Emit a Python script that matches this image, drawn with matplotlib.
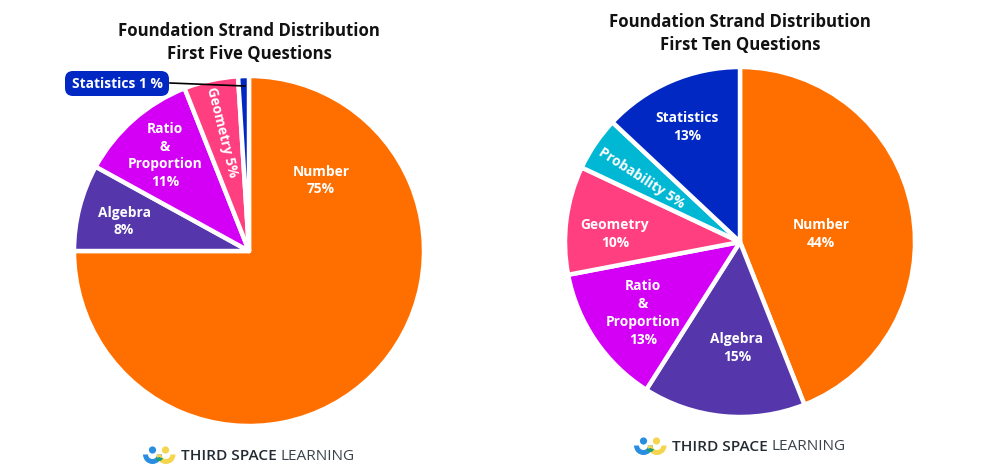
import matplotlib
matplotlib.use("Agg")
import matplotlib.pyplot as plt
from matplotlib.patches import Wedge, Circle, FancyBboxPatch

plt.rcParams['font.family'] = ['Open Sans', 'DejaVu Sans']

first_five_labels = ["Number", "Algebra", "Ratio & Proportion", "Geometry", "Statistics"]
first_five_values = [75, 8, 11, 5, 1]
first_five_colors = ["#ff6f00", "#5537ab", "#d400f5", "#ff3f80", "#0228c4"]

first_ten_labels = ["Number", "Algebra", "Ratio & Proportion", "Geometry", "Probability", "Statistics"]
first_ten_values = [44, 15, 13, 10, 5, 13]
first_ten_colors = ["#ff6f00", "#5537ab", "#d400f5", "#ff3f80", "#00b8d4", "#0228c4"]

H = 468
fig = plt.figure(figsize=(9.86, 4.68), dpi=100)
ax = fig.add_axes([0, 0, 1, 1])


def Y(py):
    return H - py


def draw_pie(values, colors, cx, cy, r):
    ax.pie(values, colors=colors, center=(cx, Y(cy)), radius=r, startangle=90,
           counterclock=False, frame=True,
           wedgeprops=dict(edgecolor="white", linewidth=3.2, joinstyle="round"))


draw_pie(first_five_values, first_five_colors, 249, 251, 175)
draw_pie(first_ten_values, first_ten_colors, 740, 242, 175)
ax.set_xlim(0, 986)
ax.set_ylim(0, H)
ax.set_aspect("equal")
ax.axis("off")


def title(x, y, s):
    ax.text(x, Y(y), s, ha="center", va="center", fontsize=12.1, fontweight="bold", color="#111111")


def label(x, y, s, rot=0):
    ax.text(x, Y(y), s, ha="center", va="center", fontsize=9.9, fontweight="bold",
            color="white", rotation=rot, rotation_mode="anchor")


title(249, 31, "Foundation Strand Distribution")
title(249, 54, "First Five Questions")
title(740, 22, "Foundation Strand Distribution")
title(740, 45, "First Ten Questions")

for x, y, s in [(321, 172, "Number"), (321, 189, "75%"),
                (124, 213, "Algebra"), (124, 230, "8%"),
                (165, 129, "Ratio"), (165, 147, "&"), (165, 164, "Proportion"), (165, 182, "11%"),
                (821, 225, "Number"), (821, 243, "44%"),
                (737, 339, "Algebra"), (737, 357, "15%"),
                (643, 286, "Ratio"), (643, 304, "&"), (643, 322, "Proportion"), (643, 340, "13%"),
                (615, 225, "Geometry"), (615, 243, "10%"),
                (687, 118, "Statistics"), (687, 136, "13%")]:
    label(x, y, s)
label(222, 132, "Geometry 5%", rot=-76)
label(642, 178, "Probability 5%", rot=-33)

# Callout for the smallest slice
ax.plot([170, 245], [Y(83), Y(86)], color="black", lw=1.2, zorder=4)
ax.add_patch(FancyBboxPatch((73, Y(88)), 88, 9, boxstyle="round,pad=8,rounding_size=8",
                            fc="#0228c4", ec="none", zorder=5))
ax.text(117, Y(84), "Statistics 1 %", ha="center", va="center", fontsize=9.9,
        fontweight="bold", color="white", zorder=6)


def logo(x0, y0):
    # x0, y0: left edge and top edge of the icon, in pixels
    ax.add_patch(Wedge((x0 + 9.5, Y(y0 + 8.5)), 9.5, 180, 360, width=5, fc="#2a8ee0", ec="none"))
    ax.add_patch(Wedge((x0 + 23, Y(y0 + 8.5)), 9.5, 180, 360, width=5, fc="#f5d44e", ec="none"))
    ax.add_patch(Wedge((x0 + 16.2, Y(y0 + 11)), 4, 200, 340, fc="#1f9e7a", ec="none"))
    ax.add_patch(Circle((x0 + 9.5, Y(y0 + 4)), 3.6, fc="#2a8ee0", ec="none"))
    ax.add_patch(Circle((x0 + 22.5, Y(y0 + 4)), 3.6, fc="#f5d44e", ec="none"))
    t = ax.text(x0 + 38, Y(y0 + 10), "THIRD SPACE", ha="left", va="center",
                fontsize=11.1, fontweight="semibold", color="#222a33")
    fig.canvas.draw()
    bb = t.get_window_extent().transformed(ax.transData.inverted())
    ax.text(bb.x1 + 4, Y(y0 + 10), "LEARNING", ha="left", va="center",
            fontsize=11.1, fontweight="normal", color="#3a424c")


logo(143, 446)
logo(634, 437)

fig.savefig("out.png", dpi=100)
